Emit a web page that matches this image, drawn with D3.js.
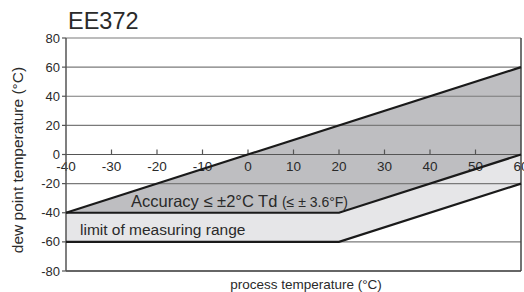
<!DOCTYPE html>
<html>
<head>
<meta charset="utf-8">
<script src="https://cdn.jsdelivr.net/npm/d3@7"></script>
<style>
  body { margin: 0; background: #fff; }
  text { font-family: "Liberation Sans", Arial, sans-serif; fill: #2a2a2a; }
</style>
</head>
<body>
<div id="chart"></div>
<script>
const title = "EE372";
const xTicks = [-40, -30, -20, -10, 0, 10, 20, 30, 40, 50, 60];
const yTicks = [80, 60, 40, 20, 0, -20, -40, -60, -80];
const gridValues = [80, 60, 40, 20, -20, -60];

// accuracy band (process temp, dew point)
const accuracyArea = [[-40, -40], [60, 60], [60, 0], [20, -40]];
// limit of measuring range band
const limitArea = [[-40, -40], [20, -40], [60, 0], [60, -20], [20, -60], [-40, -60]];
// black boundary lines
const boundaryLines = [
  [[-40, -40], [60, 60]],
  [[-40, -40], [20, -40], [60, 0]],
  [[-40, -60], [20, -60], [60, -20]]
];

const width = 524, height = 292;
const x = d3.scaleLinear().domain([-40, 60]).range([66, 521]);
const y = d3.scaleLinear().domain([-80, 80]).range([271, 38]);

const svg = d3.select("#chart").append("svg")
  .attr("width", width)
  .attr("height", height);

const line = d3.line().x(d => x(d[0])).y(d => y(d[1]));

svg.append("path")
  .attr("d", line(limitArea) + "Z")
  .attr("fill", "#e6e6e8");

svg.append("path")
  .attr("d", line(accuracyArea) + "Z")
  .attr("fill", "#bebec1");

// grid
svg.selectAll(".grid")
  .data(gridValues)
  .enter()
  .append("line")
  .attr("x1", x(-40)).attr("x2", x(60))
  .attr("y1", d => y(d)).attr("y2", d => y(d))
  .attr("stroke", "#7a7a7a")
  .attr("stroke-width", 1.2);

// zero axis with upward ticks
svg.append("line")
  .attr("x1", x(-40)).attr("x2", x(60))
  .attr("y1", y(0)).attr("y2", y(0))
  .attr("stroke", "#555").attr("stroke-width", 1.2);

svg.selectAll(".xtick")
  .data(xTicks.slice(1, -1))
  .enter()
  .append("line")
  .attr("x1", d => x(d)).attr("x2", d => x(d))
  .attr("y1", y(0)).attr("y2", y(0) - 5)
  .attr("stroke", "#555").attr("stroke-width", 1.2);

svg.selectAll(".xlabel")
  .data(xTicks)
  .enter()
  .append("text")
  .attr("x", d => x(d))
  .attr("y", y(0) + 16)
  .attr("text-anchor", "middle")
  .style("font-size", "13.5px")
  .text(d => d);

// bottom line
svg.append("line")
  .attr("x1", x(-40)).attr("x2", x(60))
  .attr("y1", y(-80)).attr("y2", y(-80))
  .attr("stroke", "#333").attr("stroke-width", 1.5);

// y axis
svg.append("line")
  .attr("x1", x(-40)).attr("x2", x(-40))
  .attr("y1", y(80)).attr("y2", y(-80))
  .attr("stroke", "#555").attr("stroke-width", 1.5);

svg.append("line")
  .attr("x1", x(60)).attr("x2", x(60))
  .attr("y1", y(80)).attr("y2", y(-80))
  .attr("stroke", "#444").attr("stroke-width", 1.5);

svg.selectAll(".ytick")
  .data(yTicks)
  .enter()
  .append("line")
  .attr("x1", x(-40) - 4).attr("x2", x(-40))
  .attr("y1", d => y(d)).attr("y2", d => y(d))
  .attr("stroke", "#555").attr("stroke-width", 1.2);

svg.selectAll(".ylabel")
  .data(yTicks)
  .enter()
  .append("text")
  .attr("x", x(-40) - 6)
  .attr("y", d => y(d) + 4.5)
  .attr("text-anchor", "end")
  .style("font-size", "13px")
  .text(d => d);

// black boundaries
svg.selectAll(".bound")
  .data(boundaryLines)
  .enter()
  .append("path")
  .attr("d", d => line(d))
  .attr("fill", "none")
  .attr("stroke", "#1a1a1a")
  .attr("stroke-width", 2.2);

// labels
svg.append("text")
  .attr("x", 68).attr("y", 29)
  .style("font-size", "23.5px")
  .text(title);

const acc = svg.append("text")
  .attr("x", 131).attr("y", 207)
  .style("font-size", "16.5px");
acc.append("tspan").text("Accuracy \u2264 \u00b12\u00b0C Td ");
acc.append("tspan").style("font-size", "14px").text("(\u2264 \u00b1 3.6\u00b0F)");

svg.append("text")
  .attr("x", 80).attr("y", 235)
  .style("font-size", "15.5px")
  .text("limit of measuring range");

svg.append("text")
  .attr("x", 306).attr("y", 289)
  .attr("text-anchor", "middle")
  .style("font-size", "13.5px")
  .text("process temperature (\u00b0C)");

svg.append("text")
  .attr("transform", "translate(23,160) rotate(-90)")
  .attr("text-anchor", "middle")
  .style("font-size", "15.5px")
  .text("dew point temperature (\u00b0C)");
</script>
</body>
</html>
